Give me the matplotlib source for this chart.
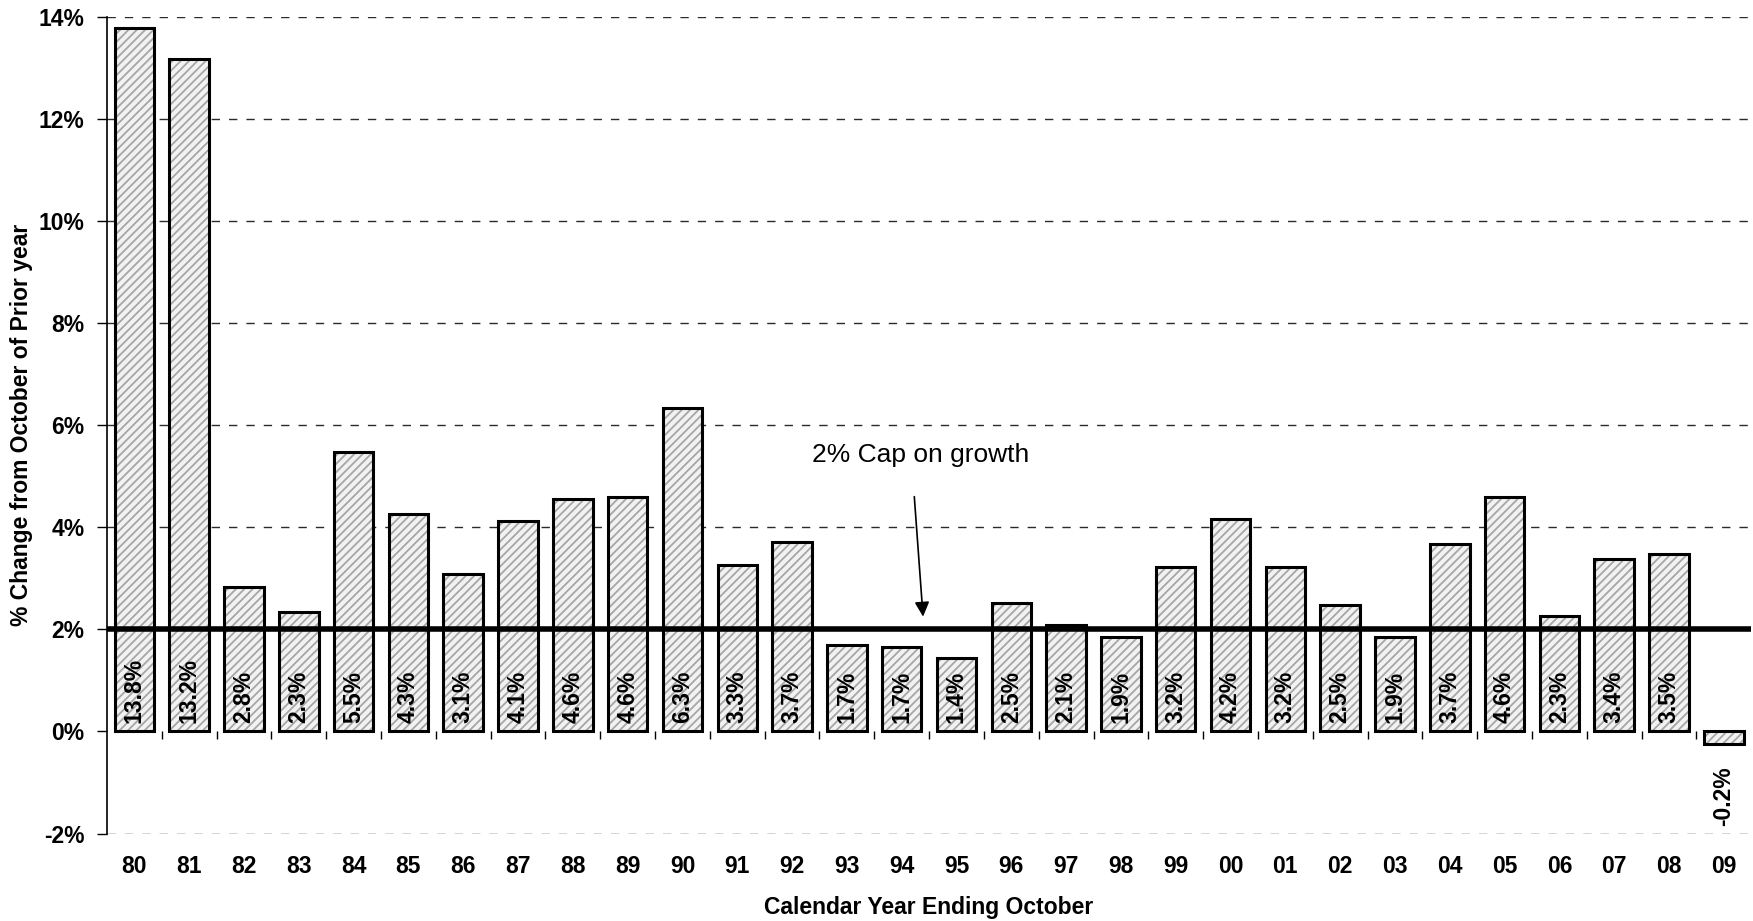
import numpy as np
import matplotlib
matplotlib.use("Agg")
import matplotlib.pyplot as plt

plt.rcParams['font.family'] = ['Liberation Sans', 'DejaVu Sans']
plt.rcParams['hatch.linewidth'] = 1.3

# data
years = ["80", "81", "82", "83", "84", "85", "86", "87", "88", "89",
         "90", "91", "92", "93", "94", "95", "96", "97", "98", "99",
         "00", "01", "02", "03", "04", "05", "06", "07", "08", "09"]
pct_change = [13.78, 13.17, 2.83, 2.34, 5.48, 4.26, 3.09, 4.13, 4.56, 4.60,
              6.33, 3.27, 3.72, 1.69, 1.66, 1.44, 2.52, 2.08, 1.86, 3.22,
              4.17, 3.22, 2.47, 1.86, 3.67, 4.60, 2.27, 3.38, 3.48, -0.24]
cap = 2.0
yticks = [-2, 0, 2, 4, 6, 8, 10, 12, 14]
note = "2% Cap on growth"
note_xy = (14.34, 5.42)
arrow_from = (14.23, 4.6)
arrow_to = (14.39, 2.25)

x = np.arange(len(years))
fs = 16.5

fig = plt.figure(figsize=(17.53, 9.21), dpi=100)
ax = fig.add_axes([0.061, 0.0949, 0.938, 0.8869])

# hatched fill first, then black outlines on top
ax.bar(x, pct_change, width=0.72, color='#f2f2f2', edgecolor='#a6a6a6',
       hatch='////', linewidth=0, zorder=2)
ax.bar(x, pct_change, width=0.72, color='none', edgecolor='black',
       linewidth=2.2, zorder=3)

ax.axhline(cap, color='black', linewidth=4, zorder=4)

for xi, v in zip(x, pct_change):
    lbl = f"{v:.1f}%"
    if v >= 0:
        ax.annotate(lbl, (xi, 0), xytext=(0, 6), textcoords='offset points',
                    rotation=90, ha='center', va='bottom', fontsize=fs,
                    fontweight='bold', zorder=5)
    else:
        ax.annotate(lbl, (xi, v), xytext=(0, -16), textcoords='offset points',
                    rotation=90, ha='center', va='top', fontsize=fs,
                    fontweight='bold', zorder=5)

ax.text(note_xy[0], note_xy[1], note, ha='center', va='center', fontsize=19)
ax.annotate("", xy=arrow_to, xytext=arrow_from,
            arrowprops=dict(arrowstyle='-|>', color='black', lw=1.2,
                            mutation_scale=22, shrinkA=0, shrinkB=0))

ax.set_xlim(-0.5, len(years) - 0.5)
ax.set_ylim(-2, 14)
ax.set_yticks(yticks)
ax.set_yticklabels([f"{t}%" for t in yticks], fontsize=fs, fontweight='bold')
ax.tick_params(axis='y', length=7, width=1, direction='out', pad=9)

ax.yaxis.grid(True, color='#2a2a2a', linestyle=(0, (6, 6.5)), linewidth=1)
for t, gl in zip(yticks, ax.get_ygridlines()):
    if t == 0:
        gl.set_visible(False)
ax.set_axisbelow(True)

for s in ['top', 'right']:
    ax.spines[s].set_visible(False)
ax.spines['left'].set_linewidth(1.2)
ax.spines['bottom'].set_position(('data', 0))
ax.spines['bottom'].set_color('none')

ax.set_xticks(x)
ax.set_xticklabels(years, fontsize=fs, fontweight='bold')
ax.set_xticks(x[:-1] + 0.5, minor=True)
ax.tick_params(axis='x', which='major', length=0, pad=89)
ax.tick_params(axis='x', which='minor', length=6, width=1, direction='out')

ax.set_ylabel("% Change from October of Prior year", fontsize=fs,
              fontweight='bold')
ax.yaxis.set_label_coords(-0.045, 0.5)
fig.text(0.53, 0.0152, "Calendar Year Ending October", ha='center',
         va='center', fontsize=fs, fontweight='bold')

fig.savefig("out.png", dpi=100)
